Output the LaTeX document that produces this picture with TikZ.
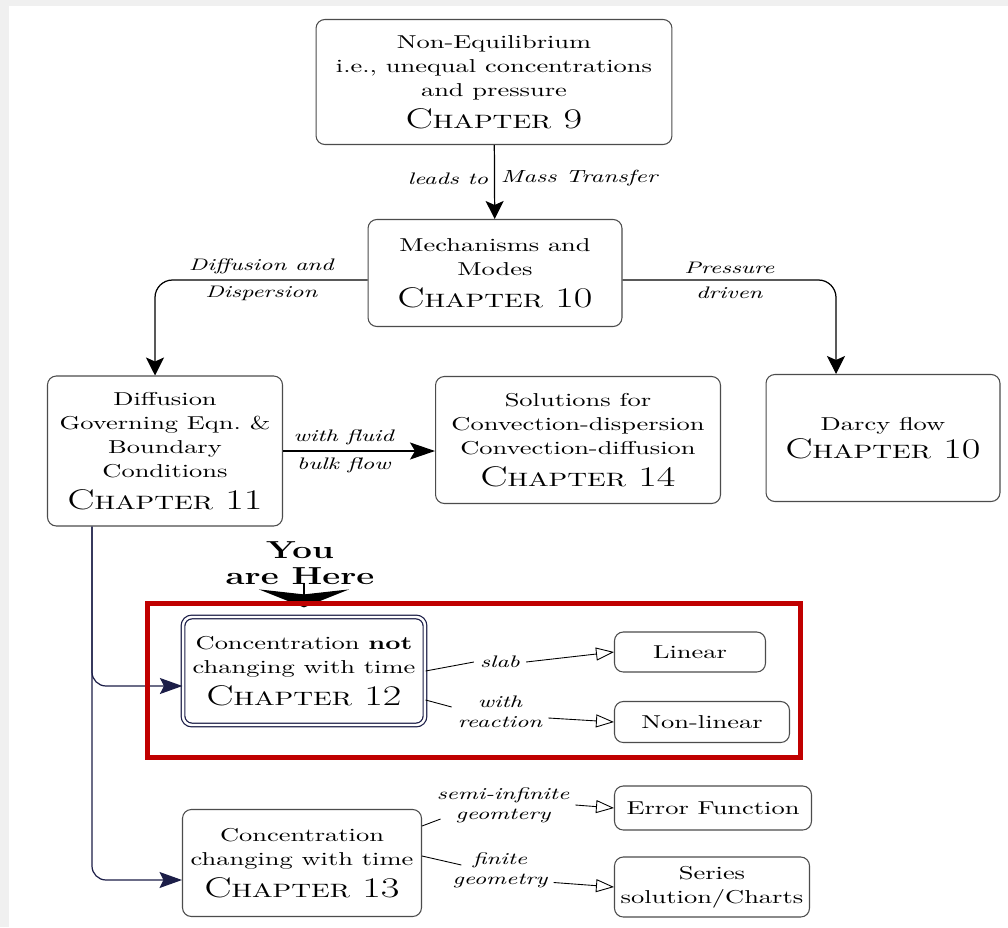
\documentclass[tikz,border=0pt]{standalone}
\usepackage{fontspec}
\setmainfont{Latin Modern Roman}[FakeStretch=1.42]
\usetikzlibrary{arrows.meta}
\definecolor{ink}{RGB}{28,30,72}
\definecolor{hilite}{RGB}{192,0,0}
\newcommand{\chap}[1]{{\fontsize{16.2}{19}\selectfont C{\fontsize{11}{19}\selectfont HAPTER} #1}}

\begin{document}
\begin{tikzpicture}[x=0.02cm, y=-0.02cm,
	box/.style={draw=black!70, line width=0.6pt, rounded corners=5pt, align=center, font=\fontsize{10.6}{13.7}\selectfont},
	here/.style={box, draw=ink, double, double distance=1.4pt, line width=0.7pt},
	lbl/.style={align=center, font=\fontsize{9.5}{11.5}\selectfont\itshape},
	flow/.style={line width=0.7pt, -{Stealth[length=0.36cm, width=0.36cm, inset=0.08cm]}},
	link/.style={ink, line width=0.7pt, rounded corners=8pt, -{Stealth[length=0.45cm, width=0.32cm, inset=0.08cm]}},
	thin/.style={line width=0.5pt},
	open/.style={line width=0.5pt, -{Triangle[open, length=0.36cm, width=0.26cm]}}]
	\useasboundingbox (0,0) rectangle (1008,927);
	\fill[gray!12] (0,0) rectangle (1008,927);
	\fill[white] (9,6) rectangle (1008,927);

	\node[box, minimum width=7.12cm, minimum height=2.5cm] at (494,82) (c9) {Non-Equilibrium\\ i.e., unequal concentrations\\ and pressure\\[4.5pt]\chap{9}};
	\node[box, minimum width=5.08cm, minimum height=2.14cm] at (495,273) (c10) {Mechanisms and\\ Modes\\[4.5pt]\chap{10}};
	\node[box, minimum width=4.7cm, minimum height=3cm] at (165,451) (c11) {Diffusion\\ Governing Eqn.~\&\\ Boundary\\ Conditions\\[4.5pt]\chap{11}};
	\node[box, minimum width=5.7cm, minimum height=2.54cm] at (578,440) (c14) {Solutions for\\ Convection-dispersion\\ Convection-diffusion\\[4.5pt]\chap{14}};
	\node[box, minimum width=4.68cm, minimum height=2.54cm] at (883,438) (darcy) {Darcy flow\\[2pt]\chap{10}};
	\node[align=center, font=\bfseries\fontsize{14}{14.5}\selectfont] at (300,563) (you) {You\\ are Here};
	\node[here, minimum width=4.84cm, minimum height=2.16cm] at (304,671) (c12) {Concentration \textbf{not}\\ changing with time\\[4.5pt]\chap{12}};
	\node[box, minimum width=3.02cm, minimum height=0.8cm] at (690,652) (lin) {Linear};
	\node[box, minimum width=3.5cm, minimum height=0.82cm] at (702,722) (nonlin) {Non-linear};
	\node[box, minimum width=4.78cm, minimum height=2.14cm] at (302,863) (c13) {Concentration\\ changing with time\\[4.5pt]\chap{13}};
	\node[box, minimum width=3.94cm, minimum height=0.88cm] at (713,808) (erf) {Error Function};
	\node[box, minimum width=3.9cm, minimum height=1.2cm] at (712,887) (series) {Series\\ solution/Charts};

	\node[lbl] at (500,662) (slab) {slab};
	\node[lbl] at (500,712) (react) {with\\ reaction};
	\node[lbl] at (503,805) (semi) {semi-infinite\\ geomtery};
	\node[lbl] at (500,870) (fin) {finite\\ geometry};

	\draw[flow] (c9) -- node[pos=.45, left, lbl] {leads to} node[pos=.45, right, lbl, font=\fontsize{10}{12}\selectfont\itshape] {Mass Transfer} (c10);
	\draw[flow, rounded corners=10pt] ([yshift=-0.14cm]c10.west) -| node[pos=.25, above, lbl] {Diffusion and} node[pos=.25, below, lbl] {Dispersion} ([xshift=-0.2cm]c11.north);
	\draw[flow, rounded corners=10pt] ([yshift=-0.14cm]c10.east) -| node[pos=.25, above, lbl] {Pressure} node[pos=.25, below, lbl] {driven} ([xshift=-0.94cm]darcy.north);
	\draw[flow, -{Stealth[length=0.5cm, width=0.34cm, inset=0.1cm]}] (c11.east) -- node[pos=.4, above, lbl] {with fluid} node[pos=.4, below, lbl] {bulk flow} (c11.east -| c14.west);

	\coordinate (trunk) at ([xshift=0.9cm]c11.south west);
	\draw[link] (trunk) |- ([yshift=-0.3cm]c12.west);
	\draw[link] (trunk) |- ([yshift=-0.34cm]c13.west);

	\draw[thin] (c12.east) -- (slab.west);
	\draw[open] (slab.east) -- (lin.west);
	\draw[thin] ([yshift=-0.58cm]c12.east) -- ([yshift=0.1cm]react.west);
	\draw[open] ([yshift=-0.12cm]react.east) -- (nonlin.west);
	\draw[thin] ([yshift=0.74cm]c13.east) -- ([xshift=0.2cm, yshift=-0.28cm]semi.west);
	\draw[open] (semi.east) -- (erf.west);
	\draw[thin] ([yshift=0.14cm]c13.east) -- ([xshift=0.3cm, yshift=0.1cm]fin.west);
	\draw[open] ([yshift=-0.25cm]fin.east) -- (series.west);

	\coordinate (point) at ([yshift=0.18cm]c12.north);
	\draw[line width=1pt, -{Stealth[length=0.36cm, width=1.8cm, inset=0.1cm]}] ([yshift=0.14cm]you.south -| point) -- (point);
	\draw[hilite, line width=0.1cm] (147,603) rectangle (800,757);
\end{tikzpicture}
\end{document}
